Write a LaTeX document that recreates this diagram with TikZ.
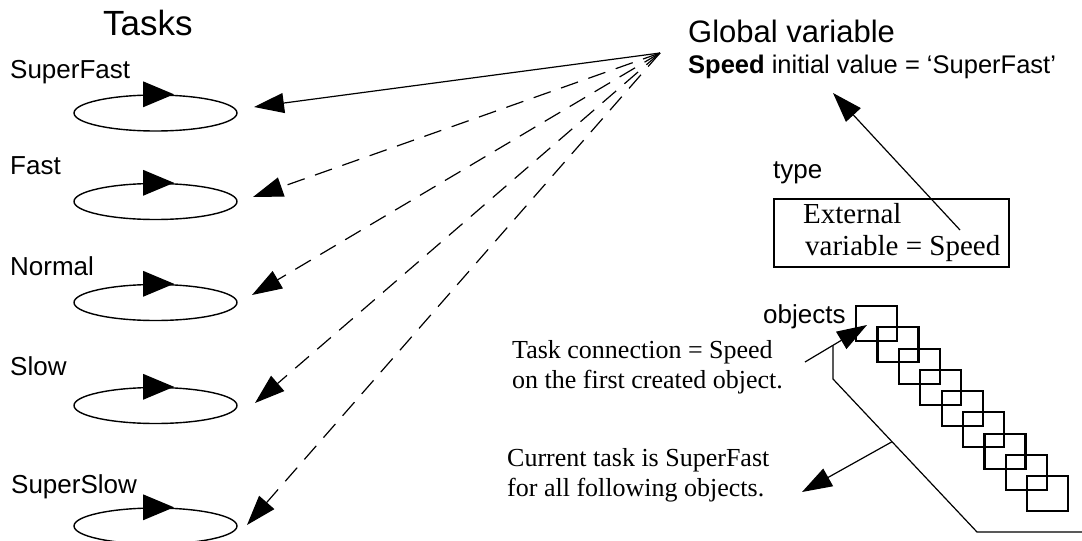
\documentclass[tikz,border=0pt]{standalone}
\usepackage{fontspec}
\setmainfont{Liberation Sans}
\newfontfamily\timesfont{Liberation Serif}
\usetikzlibrary{arrows.meta,calc,shapes.geometric}
\begin{document}
\begin{tikzpicture}[x=1pt,y=-1pt,
  lbl/.style={anchor=base west, inner sep=0pt, font=\fontsize{26}{30}\selectfont},
  ser/.style={anchor=north west, inner sep=0pt, align=left, font=\timesfont\fontsize{26}{30}\selectfont},
  task/.style={draw, ellipse, minimum width=163pt, minimum height=36pt, inner sep=0pt, line width=1.4pt},
  big/.style={-{Triangle[length=30pt,width=20pt]}, line width=1.2pt},
  dsh/.style={big, dash pattern=on 18pt off 11pt},
  objbox/.style={draw, line width=2.2pt, minimum width=41pt, minimum height=35pt, inner sep=0pt, anchor=north west},
  tbox/.style={draw, line width=2pt, minimum width=235pt, minimum height=68pt, inner sep=0pt, anchor=north west},
]
\useasboundingbox (0,0) rectangle (1082,541);

% Tasks
\node[anchor=base west, inner sep=0pt, font=\fontsize{35}{40}\selectfont] (tasks) at (103,35) {Tasks};
\node[lbl] (l1) at (10,78) {SuperFast};
\node[lbl] (l2) at (10,174) {Fast};
\node[lbl] (l3) at (10,275) {Normal};
\node[lbl] (l4) at (10,375) {Slow};
\node[lbl] (l5) at (11,493) {SuperSlow};

\node[task] (e1) at (155.5,113) {};
\node[task] (e2) at (155.5,201.5) {};
\node[task] (e3) at (155.5,302.5) {};
\node[task] (e4) at (155.5,405.5) {};
\node[task] (e5) at (155.5,526) {};
\foreach \e in {e1,e2,e3,e4,e5}{
  \fill ($(\e.north)+(-12.5,-13)$) -- ($(\e.north)+(-12.5,13)$) -- ($(\e.north)+(18.5,0)$) -- cycle;
}

% Global variable
\node[anchor=base west, inner sep=0pt, font=\fontsize{31}{35}\selectfont] (gv) at (688,42) {Global variable};
\node[anchor=base west, inner sep=0pt, font=\fontsize{25.5}{30}\selectfont] (sp) at (688,73) {\textbf{Speed} initial value = ‘SuperFast’};

\coordinate (g) at (660,53);
\coordinate (t1) at (254,107);
\coordinate (t2) at (253,197);
\coordinate (t3) at (252,295);
\coordinate (t4) at (255,403);
\coordinate (t5) at (247,525);
\draw[big] (g) -- (t1);
\draw[dsh] (g) -- (t2);
\draw[dsh] (g) -- (t3);
\draw[dsh] (g) -- (t4);
\draw[dsh] (g) -- (t5);

% type box
\node[lbl] (type) at (773,178) {type};
\node[tbox] (box) at (773,198) {};
\node[anchor=north west, inner sep=0pt, align=left, font=\timesfont\fontsize{29}{32}\selectfont] (boxtxt) at (803,203) {External\\\hspace*{2pt}variable = Speed};
\coordinate (bs) at (960,230);
\coordinate (bt) at (833,93);
\draw[big] (bs) -- (bt);

% objects
\node[lbl] (objl) at (763,323) {objects};
\foreach \i in {0,...,8}{
  \node[objbox] (o\i) at ({855+21.4*\i},{305+21.25*\i}) {};
}

% annotations
\node[ser] (tc) at (512,340) {Task connection = Speed\\on the first created object.};
\node[ser] (ct) at (507,448) {Current task is SuperFast\\for all following objects.};

\coordinate (tcs) at (805,362);
\coordinate (tct) at (867,325);
\draw[big] (tcs) -- (tct);
\path (tcs) -- coordinate[pos=0.4516] (j) (tct);
\coordinate (k1) at (833,379);
\coordinate (k2) at (977,532);
\coordinate (k3) at (1082,532);
\draw[line width=1.2pt] (j) -- (k1) -- (k2) -- (k3);
\path (k1) -- coordinate[pos=0.41] (cs) (k2);
\coordinate (ctt) at (802,492);
\draw[big] (cs) -- (ctt);
\end{tikzpicture}
\end{document}
